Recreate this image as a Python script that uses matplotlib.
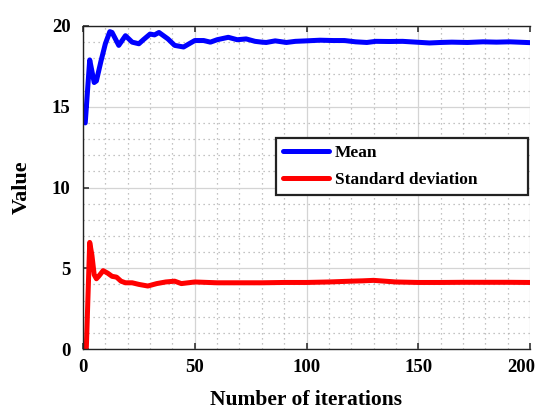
import matplotlib
matplotlib.use("Agg")
import matplotlib.pyplot as plt
from matplotlib.ticker import MultipleLocator
from matplotlib.transforms import ScaledTranslation

mean_x = [1, 3, 4, 5, 6, 8, 10, 12, 13, 16, 19, 22, 25, 27, 30, 32, 34, 38, 41, 45,
          50, 54, 57, 60, 65, 69, 73, 77, 80, 82, 86, 91, 95, 100, 106, 112, 117, 122,
          127, 131, 137, 143, 149, 155, 160, 165, 172, 179, 185, 191, 200]
mean_y = [14.0, 17.9, 17.2, 16.5, 16.6, 17.8, 18.9, 19.65, 19.6, 18.8, 19.4, 19.0, 18.9,
          19.15, 19.5, 19.45, 19.6, 19.2, 18.8, 18.7, 19.1, 19.1, 19.0, 19.15, 19.3, 19.15,
          19.2, 19.05, 19.0, 18.98, 19.08, 18.98, 19.05, 19.08, 19.12, 19.1, 19.1, 19.02,
          18.98, 19.05, 19.04, 19.05, 19.0, 18.95, 18.98, 19.0, 18.98, 19.02, 19.0, 19.02,
          18.97]

std_x = [1, 1.5, 3, 4, 5, 6, 7, 9, 11, 13, 15, 17, 19, 22, 25, 29, 33, 37, 41, 44, 50,
         60, 70, 80, 90, 100, 110, 120, 125, 130, 135, 140, 150, 160, 170, 180, 190, 200]
std_y = [0.0, 0.1, 6.6, 5.8, 4.6, 4.35, 4.5, 4.85, 4.7, 4.5, 4.45, 4.2, 4.1, 4.1, 4.0,
         3.9, 4.05, 4.15, 4.2, 4.05, 4.15, 4.1, 4.1, 4.1, 4.12, 4.12, 4.15, 4.2, 4.22,
         4.25, 4.2, 4.15, 4.12, 4.12, 4.13, 4.13, 4.13, 4.12]

x_ticks = [0, 50, 100, 150, 200]
y_ticks = [0, 5, 10, 15, 20]

plt.rcParams['font.family'] = ['Liberation Serif', 'DejaVu Serif']
plt.rcParams['font.weight'] = 'bold'

fig = plt.figure(figsize=(5.39, 4.13), dpi=100)
ax = fig.add_axes([83/539, 1 - 349/413, 447/539, 323/413])

ax.plot(mean_x, mean_y, color='#0000ff', lw=3.6, label='Mean', solid_capstyle='round')
ax.plot(std_x, std_y, color='#ff0000', lw=3.6, label='Standard deviation', solid_capstyle='round')

ax.set_xlim(0, 200)
ax.set_ylim(0, 20)
ax.set_xticks(x_ticks)
ax.set_yticks(y_ticks)
ax.xaxis.set_minor_locator(MultipleLocator(10))
ax.yaxis.set_minor_locator(MultipleLocator(1))
ax.grid(which='major', color='#d4d4d4', lw=0.9, ls='-')
ax.grid(which='minor', color='#b0b0b0', lw=0.9, ls=(0, (1, 3)))
ax.set_axisbelow(True)

ax.tick_params(which='major', direction='in', length=4, width=1.2, top=True, right=False,
               labelsize=13.5, color='#333333')
ax.tick_params(axis='x', which='major', pad=7)
ax.tick_params(axis='y', which='major', pad=9)
ax.tick_params(which='minor', length=0)
for lab in ax.get_xticklabels() + ax.get_yticklabels():
    lab.set_fontweight('bold')

ax.spines['right'].set_visible(False)
for s in ['left', 'bottom', 'top']:
    ax.spines[s].set_color('#222222')
    ax.spines[s].set_linewidth(1.0)

ax.set_xlabel('Number of iterations', fontsize=15.5, fontweight='bold')
ax.set_ylabel('Value', fontsize=16, fontweight='bold')
ax.xaxis.set_label_coords(0.5, -0.127)
ax.yaxis.set_label_coords(-0.115, 0.5)

leg = ax.legend(loc='upper left', bbox_to_anchor=(0.431, 0.48, 0.565, 0.173), mode='expand',
                borderaxespad=0, handlelength=2.7, handletextpad=0.3, borderpad=0.4,
                labelspacing=0.62, fancybox=False, framealpha=1, edgecolor='#222222',
                prop={'weight': 'bold', 'size': 12.5})
leg.get_frame().set_linewidth(1.6)
for l in leg.get_lines():
    l.set_linewidth(3.6)

last = ax.xaxis.get_major_ticks()[-1].label1
last.set_transform(last.get_transform() + ScaledTranslation(-0.09, 0, fig.dpi_scale_trans))

fig.savefig('out.png', dpi=100)
